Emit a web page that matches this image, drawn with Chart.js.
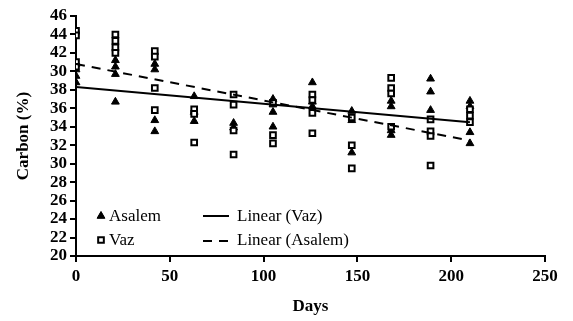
<!DOCTYPE html>
<html>
<head>
<meta charset="utf-8">
<script src="https://cdn.jsdelivr.net/npm/chart.js@4.4.1/dist/chart.umd.min.js"></script>
<style>
  html, body { margin: 0; padding: 0; background: #fff; }
  #wrap { width: 573px; height: 321px; }
</style>
</head>
<body>
<div id="wrap"><canvas id="myChart" width="573" height="321"></canvas></div>
<script>
// values
const vazDays = [0,0,0,0, 21,21,21,21, 42,42,42,42, 63,63,63, 84,84,84,84,
                 105,105,105, 126,126,126,126, 147,147,147, 168,168,168,168,
                 189,189,189,189, 210,210,210];
const vazCarbon = [44.4,43.9,41.0,40.5, 44.0,43.3,42.6,42.0, 42.2,41.6,38.2,35.8,
                   35.9,35.4,32.3, 37.5,36.4,33.6,31.0, 36.6,33.1,32.2,
                   37.5,36.9,35.5,33.3, 35.0,32.0,29.5, 39.3,38.2,37.6,34.0,
                   34.8,33.5,33.0,29.8, 35.9,35.2,34.5];

const asalemDays = [0,0,0,0, 21,21,21,21, 42,42,42,42, 63,63,63, 84,84,
                    105,105,105,105, 126,126,126, 147,147,147, 168,168,168,168,
                    189,189,189, 210,210,210,210];
const asalemCarbon = [40.8,40.2,39.5,38.8, 41.2,40.5,39.7,36.7, 40.8,40.2,34.7,33.5,
                      37.3,35.6,34.6, 34.4,33.9, 37.0,36.4,35.6,34.0,
                      38.8,36.7,36.2, 35.7,34.7,31.2, 36.8,36.2,33.6,33.1,
                      39.2,37.8,35.8, 36.8,36.2,33.4,32.2];

// trend line end points
const trendDays = [0, 210];
const vazTrend = [38.3, 34.5];
const asalemTrend = [40.8, 32.5];

// y tick labels as printed (the figure shows "30" where 40 should be)
const yTickValues = [20,22,24,26,28,30,32,34,36,38,40,42,44,46];
const yTickLabels = ['20','22','24','26','28','30','32','34','36','38','30','42','44','46'];
const xTickValues = [0,50,100,150,200,250];

const toPts = (xs, ys) => xs.map((x, i) => ({x: x, y: ys[i]}));

const FONT = '"Liberation Serif", "Times New Roman", serif';

// legend drawn inside the plot, lower left
const insideLegend = {
  id: 'insideLegend',
  afterDraw(chart) {
    const ctx = chart.ctx;
    const a = chart.chartArea;
    const x0 = a.left + 25, x1 = a.left + 127;
    const y0 = a.bottom - 40, y1 = a.bottom - 17;
    ctx.save();
    ctx.fillStyle = '#000';
    ctx.strokeStyle = '#000';
    // triangle
    Chart.helpers.drawPoint(ctx, {pointStyle: 'triangle', radius: 4.5, rotation: 0, borderWidth: 1}, x0, y0);
    ctx.fill();
    // square
    ctx.fillStyle = '#fff';
    ctx.lineWidth = 2;
    Chart.helpers.drawPoint(ctx, {pointStyle: 'rect', radius: 4, rotation: 0, borderWidth: 2}, x0, y1 + 1);
    // lines
    ctx.lineWidth = 2;
    ctx.beginPath();
    ctx.moveTo(x1, y0); ctx.lineTo(x1 + 26, y0);
    ctx.stroke();
    ctx.setLineDash([9, 7]);
    ctx.beginPath();
    ctx.moveTo(x1, y1 + 2); ctx.lineTo(x1 + 26, y1 + 2);
    ctx.stroke();
    ctx.setLineDash([]);
    ctx.fillStyle = '#000';
    ctx.font = '17px ' + FONT;
    ctx.textBaseline = 'middle';
    ctx.fillText('Asalem', x0 + 8, y0 + 1);
    ctx.fillText('Vaz', x0 + 8, y1 + 2);
    ctx.fillText('Linear (Vaz)', x1 + 34, y0 + 1);
    ctx.fillText('Linear (Asalem)', x1 + 34, y1 + 2);
    ctx.restore();
  }
};

const chart = new Chart(document.getElementById('myChart'), {
  type: 'scatter',
  data: {
    datasets: [
      {
        label: 'Linear (Vaz)',
        type: 'line',
        data: toPts(trendDays, vazTrend),
        borderColor: '#000',
        borderWidth: 2,
        pointRadius: 0,
        fill: false
      },
      {
        label: 'Linear (Asalem)',
        type: 'line',
        data: toPts(trendDays, asalemTrend),
        borderColor: '#000',
        borderWidth: 2,
        borderDash: [9, 7],
        pointRadius: 0,
        fill: false
      },
      {
        label: 'Vaz',
        data: toPts(vazDays, vazCarbon),
        pointStyle: 'rect',
        pointRadius: 4,
        pointBackgroundColor: '#fff',
        pointBorderColor: '#000',
        pointBorderWidth: 2
      },
      {
        label: 'Asalem',
        data: toPts(asalemDays, asalemCarbon),
        pointStyle: 'triangle',
        pointRadius: 4.5,
        pointBackgroundColor: '#000',
        pointBorderColor: '#000',
        pointBorderWidth: 1
      }
    ]
  },
  options: {
    responsive: false,
    animation: false,
    layout: { padding: { left: 0, right: 28, top: 16, bottom: 0 } },
    plugins: {
      legend: { display: false },
      tooltip: { enabled: false }
    },
    scales: {
      x: {
        type: 'linear',
        min: 0, max: 250,
        afterBuildTicks: (s) => { s.ticks = xTickValues.map(v => ({value: v})); },
        afterFit: (s) => { s.height = 65; },
        grid: { display: true, drawOnChartArea: false, drawTicks: true, tickLength: 6, color: '#000', lineWidth: 2 },
        border: { display: true, color: '#000', width: 2 },
        ticks: { color: '#000', padding: 4, autoSkip: false, font: { family: FONT, size: 17, weight: 'bold' }, maxRotation: 0 },
        title: { display: true, text: 'Days', color: '#000', padding: { top: 4 }, font: { family: FONT, size: 17, weight: 'bold' } }
      },
      y: {
        type: 'linear',
        min: 20, max: 46,
        afterBuildTicks: (s) => { s.ticks = yTickValues.map(v => ({value: v})); },
        afterFit: (s) => { s.width = 76; },
        grid: { display: true, drawOnChartArea: false, drawTicks: true, tickLength: 6, color: '#000', lineWidth: 2 },
        border: { display: true, color: '#000', width: 2 },
        ticks: {
          color: '#000', padding: 3, autoSkip: false,
          font: { family: FONT, size: 17, weight: 'bold' },
          callback: (v) => yTickLabels[yTickValues.indexOf(v)]
        },
        title: { display: true, text: 'Carbon (%)', color: '#000', padding: { top: 13, bottom: 2 }, font: { family: FONT, size: 17, weight: 'bold' } }
      }
    }
  },
  plugins: [insideLegend]
});
</script>
</body>
</html>
